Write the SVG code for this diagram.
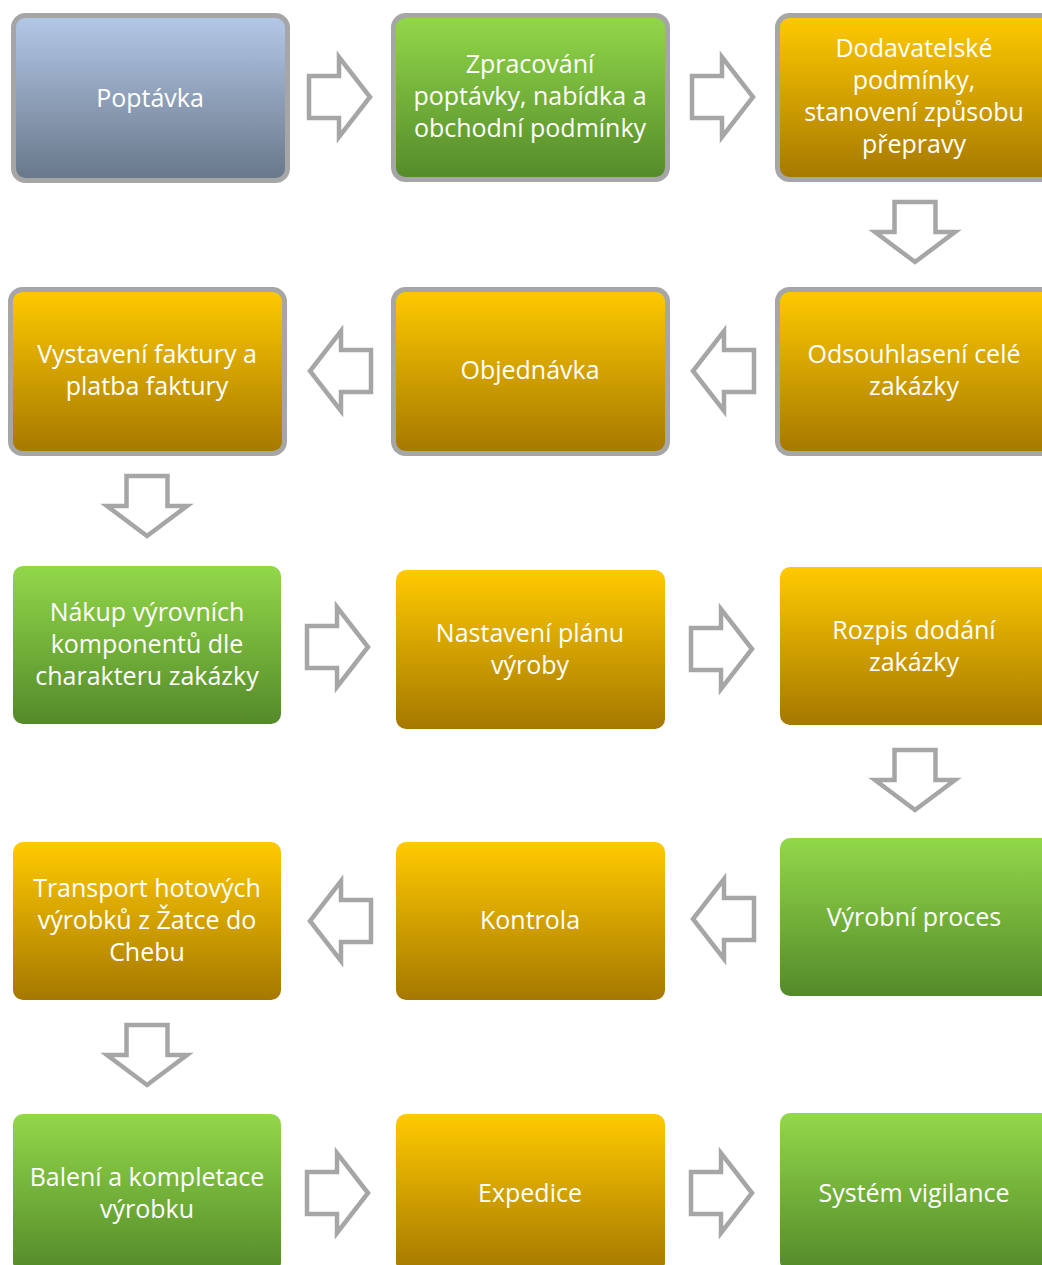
<svg xmlns="http://www.w3.org/2000/svg" width="1042" height="1265" viewBox="0 0 1042 1265">
<defs>
<linearGradient id="gBlue" x1="0" y1="0" x2="0" y2="1"><stop offset="0" stop-color="#b4c9e8"/><stop offset="1" stop-color="#687789"/></linearGradient>
<linearGradient id="gGreen" x1="0" y1="0" x2="0" y2="1"><stop offset="0" stop-color="#92d84a"/><stop offset="1" stop-color="#548a2a"/></linearGradient>
<linearGradient id="gOrange" x1="0" y1="0" x2="0" y2="1"><stop offset="0" stop-color="#ffca00"/><stop offset="1" stop-color="#a57800"/></linearGradient>
<path id="arR" d="M0,-21 H30 V-40 L61,0 L30,40 V21 H0 Z"/>
<path id="arL" d="M0,-21 H-30 V-40 L-61,0 L-30,40 V21 H0 Z"/>
<path id="arD" d="M-20.5,0 V30 H-40 L0,60 L40,30 H20.5 V0 Z"/>
</defs>
<style>
.bd{stroke:#a6a6a6;stroke-width:5}
.ar{fill:#fff;stroke:#a6a6a6;stroke-width:4.5;stroke-linejoin:miter}
text{font-family:"Open Sans","Liberation Sans",sans-serif;font-size:25px;fill:#fff;text-anchor:middle}
</style>
<rect width="1042" height="1265" fill="#fff"/>
<g id="connectors">
<use href="#arR" class="ar" x="309" y="97"/>
<use href="#arR" class="ar" x="692" y="97"/>
<use href="#arD" class="ar" x="915" y="202"/>
<use href="#arL" class="ar" x="754" y="371"/>
<use href="#arL" class="ar" x="371" y="371"/>
<use href="#arD" class="ar" x="147" y="476"/>
<use href="#arR" class="ar" x="307" y="647"/>
<use href="#arR" class="ar" x="691" y="649"/>
<use href="#arD" class="ar" x="915" y="750"/>
<use href="#arL" class="ar" x="754" y="919"/>
<use href="#arL" class="ar" x="371" y="921"/>
<use href="#arD" class="ar" x="147" y="1025"/>
<use href="#arR" class="ar" x="307" y="1193"/>
<use href="#arR" class="ar" x="691" y="1193"/>
</g>
<g id="n1"><rect x="13.5" y="15.5" width="274" height="165" rx="12" fill="url(#gBlue)" class="bd"/><text x="150" y="107">Poptávka</text></g>
<g id="n2"><rect x="393.5" y="15.5" width="274" height="164" rx="12" fill="url(#gGreen)" class="bd"/><text x="530" y="73">Zpracování</text><text x="530" y="105">poptávky, nabídka a</text><text x="530" y="137">obchodní podmínky</text></g>
<g id="n3"><rect x="777.5" y="15.5" width="280" height="164" rx="12" fill="url(#gOrange)" class="bd"/><text x="914" y="57">Dodavatelské</text><text x="914" y="89">podmínky,</text><text x="914" y="121">stanovení způsobu</text><text x="914" y="153">přepravy</text></g>
<g id="n4"><rect x="777.5" y="289.5" width="280" height="164" rx="12" fill="url(#gOrange)" class="bd"/><text x="914" y="363">Odsouhlasení celé</text><text x="914" y="395">zakázky</text></g>
<g id="n5"><rect x="393.5" y="289.5" width="274" height="164" rx="12" fill="url(#gOrange)" class="bd"/><text x="530" y="379">Objednávka</text></g>
<g id="n6"><rect x="10.5" y="289.5" width="274" height="164" rx="12" fill="url(#gOrange)" class="bd"/><text x="147" y="363">Vystavení faktury a</text><text x="147" y="395">platba faktury</text></g>
<g id="n7"><rect x="13" y="566" width="268" height="158" rx="10" fill="url(#gGreen)"/><text x="147" y="621">Nákup výrovních</text><text x="147" y="653">komponentů dle</text><text x="147" y="685">charakteru zakázky</text></g>
<g id="n8"><rect x="396" y="570" width="269" height="159" rx="10" fill="url(#gOrange)"/><text x="530" y="642">Nastavení plánu</text><text x="530" y="674">výroby</text></g>
<g id="n9"><rect x="780" y="567" width="275" height="158" rx="10" fill="url(#gOrange)"/><text x="914" y="639">Rozpis dodání</text><text x="914" y="671">zakázky</text></g>
<g id="n10"><rect x="780" y="838" width="275" height="158" rx="10" fill="url(#gGreen)"/><text x="914" y="926">Výrobní proces</text></g>
<g id="n11"><rect x="396" y="842" width="269" height="158" rx="10" fill="url(#gOrange)"/><text x="530" y="929">Kontrola</text></g>
<g id="n12"><rect x="13" y="842" width="268" height="158" rx="10" fill="url(#gOrange)"/><text x="147" y="897">Transport hotových</text><text x="147" y="929">výrobků z Žatce do</text><text x="147" y="961">Chebu</text></g>
<g id="n13"><rect x="13" y="1114" width="268" height="158" rx="10" fill="url(#gGreen)"/><text x="147" y="1186">Balení a kompletace</text><text x="147" y="1218">výrobku</text></g>
<g id="n14"><rect x="396" y="1114" width="269" height="158" rx="10" fill="url(#gOrange)"/><text x="530" y="1202">Expedice</text></g>
<g id="n15"><rect x="780" y="1113" width="275" height="158" rx="10" fill="url(#gGreen)"/><text x="914" y="1202">Systém vigilance</text></g>
</svg>
